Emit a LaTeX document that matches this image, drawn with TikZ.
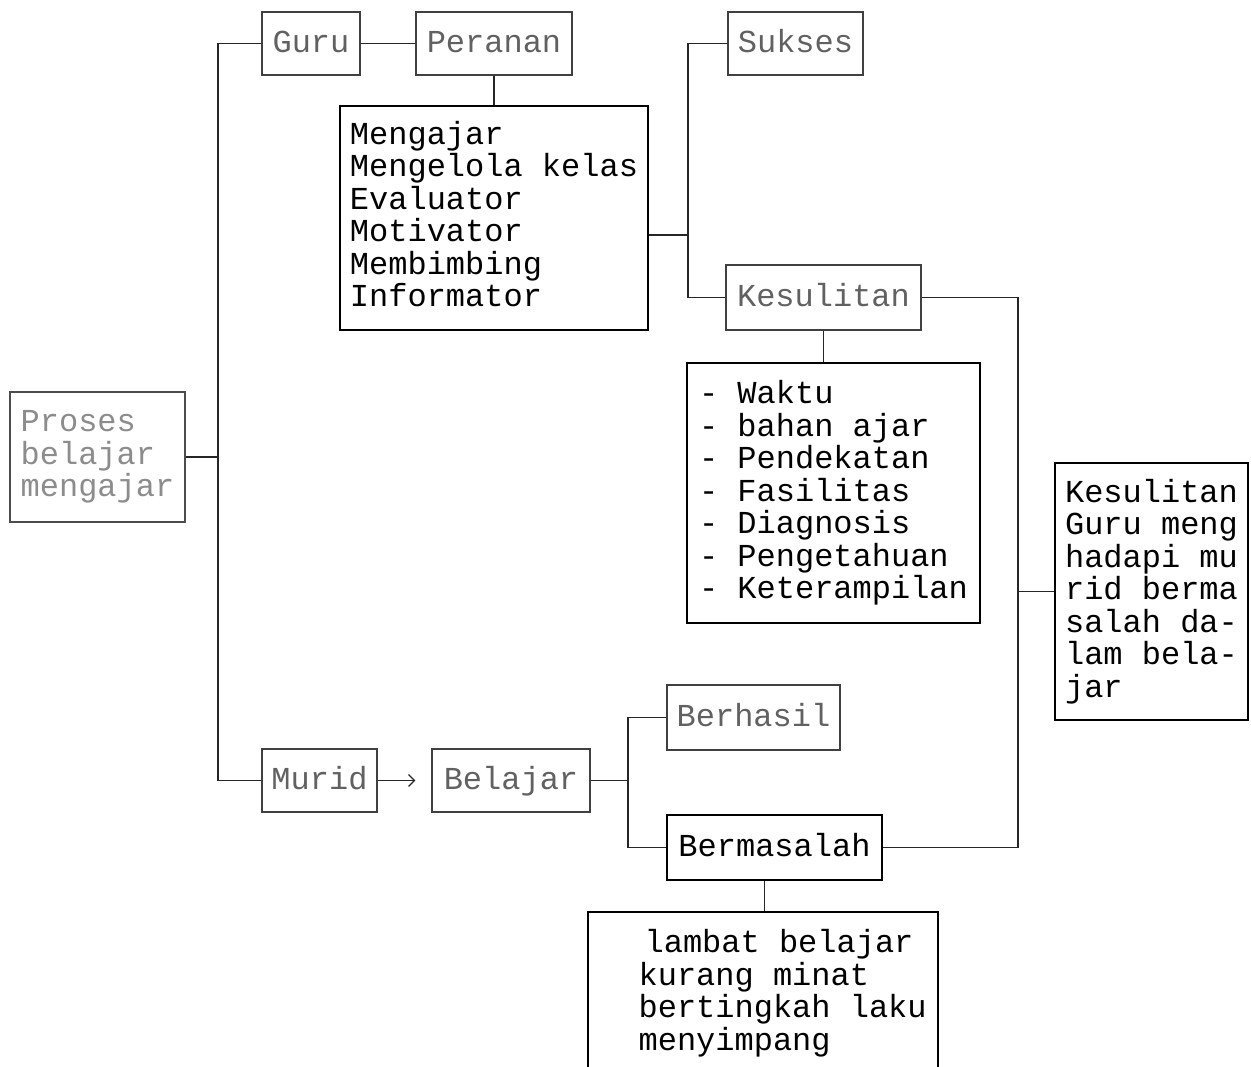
\documentclass[tikz,border=0pt]{standalone}
\usepackage{fontspec}
\setmonofont{Liberation Mono}
\usetikzlibrary{arrows.meta}
\begin{document}
\begin{tikzpicture}[x=1pt,y=-1pt,
  every path/.style={line width=1.2pt},
  base/.style={draw, line width=1.2pt, inner sep=0pt, font=\ttfamily\fontsize{32}{32.5}\selectfont},
  onebox/.style={base, text height=18pt, text depth=0pt},
  listbox/.style={base, align=left},
  faded/.style={draw=black!75, text=black!62},
  pale/.style={draw=black!70, text=black!45},
  conn/.style={line width=1.2pt, black!85},
  arr/.style={conn, -{Straight Barb[length=6pt,width=12pt,line width=1.2pt]}, shorten >=16pt}
]
\useasboundingbox (0,0) rectangle (1251,1067);

% single-line boxes
\node[onebox, faded, minimum width=98pt, minimum height=63pt] (guru) at (311,43.5) {Guru};
\node[onebox, faded, minimum width=156pt, minimum height=63pt] (peranan) at (494,43.5) {Peranan};
\node[onebox, faded, minimum width=135pt, minimum height=63pt] (sukses) at (795.5,43.5) {Sukses};
\node[onebox, faded, minimum width=195pt, minimum height=65pt] (kesulitan) at (823.5,297.5) {Kesulitan};
\node[onebox, faded, minimum width=115pt, minimum height=63pt] (murid) at (319.5,780.5) {Murid};
\node[onebox, faded, minimum width=158pt, minimum height=63pt] (belajar) at (511,780.5) {Belajar};
\node[onebox, faded, minimum width=173pt, minimum height=65pt] (berhasil) at (753.5,717.5) {Berhasil};
\node[onebox, minimum width=215pt, minimum height=65pt] (bermasalah) at (774.5,847.5) {Bermasalah};

% multi-line boxes
\node[listbox, pale, minimum width=175pt, minimum height=130pt] (proses) at (97.5,457)
  {Proses\\belajar\\mengajar};
\node[listbox, minimum width=308pt, minimum height=224pt, text depth=8pt] (peran) at (494,218)
  {Mengajar\\Mengelola kelas\\Evaluator\\Motivator\\Membimbing\\Informator};
\node[listbox, minimum width=293pt, minimum height=260pt] (waktu) at (833.5,493)
  {- Waktu\\- bahan ajar\\- Pendekatan\\- Fasilitas\\- Diagnosis\\- Pengetahuan\\- Keterampilan};
\node[listbox, minimum width=193pt, minimum height=257pt] (kguru) at (1151.5,591.5)
  {Kesulitan\\Guru meng\\hadapi mu\\rid berma\\salah da-\\lam bela-\\jar};
\node[base, minimum width=350pt, minimum height=162pt] (bawah) at (763,993) {};
\node[base, draw=none, align=left, anchor=north west] (bawahtxt) at (638,929)
  {\hspace*{6pt}lambat belajar\\kurang minat\\bertingkah laku\\menyimpang};

% junction coordinates
\coordinate (tk) at (218,0);
\coordinate (j1) at (688,235);
\coordinate (j2) at (1018,0);
\coordinate (j3) at (628,0);

% connectors
\draw[conn] (guru.west) -- (guru.west -| tk) |- (murid.west);
\draw[conn] (proses.east) -- (proses.east -| tk);
\draw[conn] (guru.east) -- (peranan.west);
\draw[conn] (peranan.south) -- (peran.north);
\draw[conn] (sukses.west) -- (sukses.west -| j1) |- (kesulitan.west);
\draw[conn] (peran.east |- j1) -- (j1);
\draw[conn] (kesulitan.south) -- (kesulitan.south |- waktu.north);
\draw[conn] (kesulitan.east) -- (kesulitan.east -| j2) |- (bermasalah.east);
\draw[conn] (kguru.west) -- (kguru.west -| j2);
\draw[arr] (murid.east) -- (belajar.west);
\draw[conn] (belajar.east) -- (belajar.east -| j3);
\draw[conn] (berhasil.west) -- (berhasil.west -| j3) |- (bermasalah.west);
\draw[conn] ([xshift=-10pt]bermasalah.south) -- ([xshift=-10pt]bermasalah.south |- bawah.north);
\end{tikzpicture}
\end{document}
